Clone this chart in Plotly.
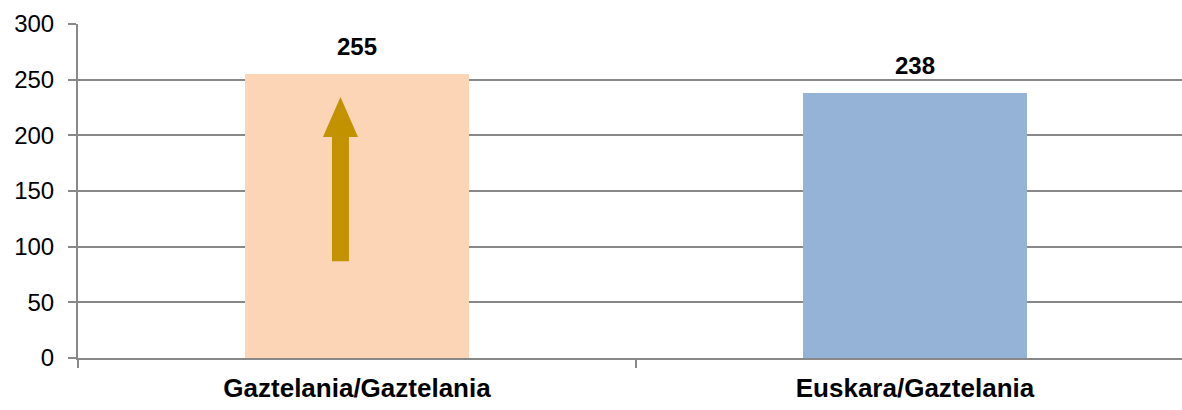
import plotly.graph_objects as go

categories = ['Gaztelania/Gaztelania', 'Euskara/Gaztelania']
values = [255, 238]
bar_colors = ['#FBD5B5', '#95B3D7']
y_ticks = [0, 50, 100, 150, 200, 250, 300]

fig = go.Figure()
fig.add_trace(go.Bar(x=categories, y=values, width=0.4, marker=dict(color=bar_colors, line=dict(width=0)),
                     hoverinfo='skip'))

# value labels above the bars
for c, v in zip(categories, values):
    fig.add_annotation(x=c, y=v, text='<b>%d</b>' % v, showarrow=False, yanchor='bottom', yshift=12,
                       font=dict(family='Liberation Sans, Arial', size=24, color='black'))

# golden arrow drawn inside the first bar (category axis: index 0 = first bar)
ax, ay0, ay1, ay2 = -0.0296, 87, 198.5, 234.4
sw, hw = 0.0152, 0.0314
path = ('M %f,%f L %f,%f L %f,%f L %f,%f L %f,%f L %f,%f L %f,%f Z' %
        (ax - sw, ay0, ax - sw, ay1, ax - hw, ay1, ax, ay2, ax + hw, ay1, ax + sw, ay1, ax + sw, ay0))
fig.add_shape(type='path', path=path, xref='x', yref='y', fillcolor='#C29200', line=dict(width=0))

fig.update_xaxes(type='category', range=[-0.5, 1.4785], tickmode='array', tickvals=categories,
                 ticktext=['<b>%s</b>' % c for c in categories],
                 ticks='outside', tickson='boundaries', ticklen=8, tickcolor='#888888', tickwidth=2,
                 showline=True, linecolor='#888888', linewidth=2, showgrid=False, zeroline=False,
                 tickfont=dict(family='Liberation Sans, Arial', size=26, color='black'), ticklabelstandoff=6)
fig.update_yaxes(range=[0, 300], tickvals=y_ticks, ticks='outside', ticklen=8, tickcolor='#888888', tickwidth=2,
                 showline=True, linecolor='#888888', linewidth=2, showgrid=True, gridcolor='#888888', gridwidth=2,
                 zeroline=False, tickfont=dict(family='Liberation Sans, Arial', size=24, color='black'),
                 ticklabelstandoff=9)

fig.update_layout(width=1182, height=410, margin=dict(l=78, r=0, t=24, b=52, autoexpand=False),
                  plot_bgcolor='white', paper_bgcolor='white', showlegend=False, bargap=0)

fig.write_html("out.html", config={'displayModeBar': False},
               post_script="document.body.style.margin='0';document.body.style.overflow='hidden';")
